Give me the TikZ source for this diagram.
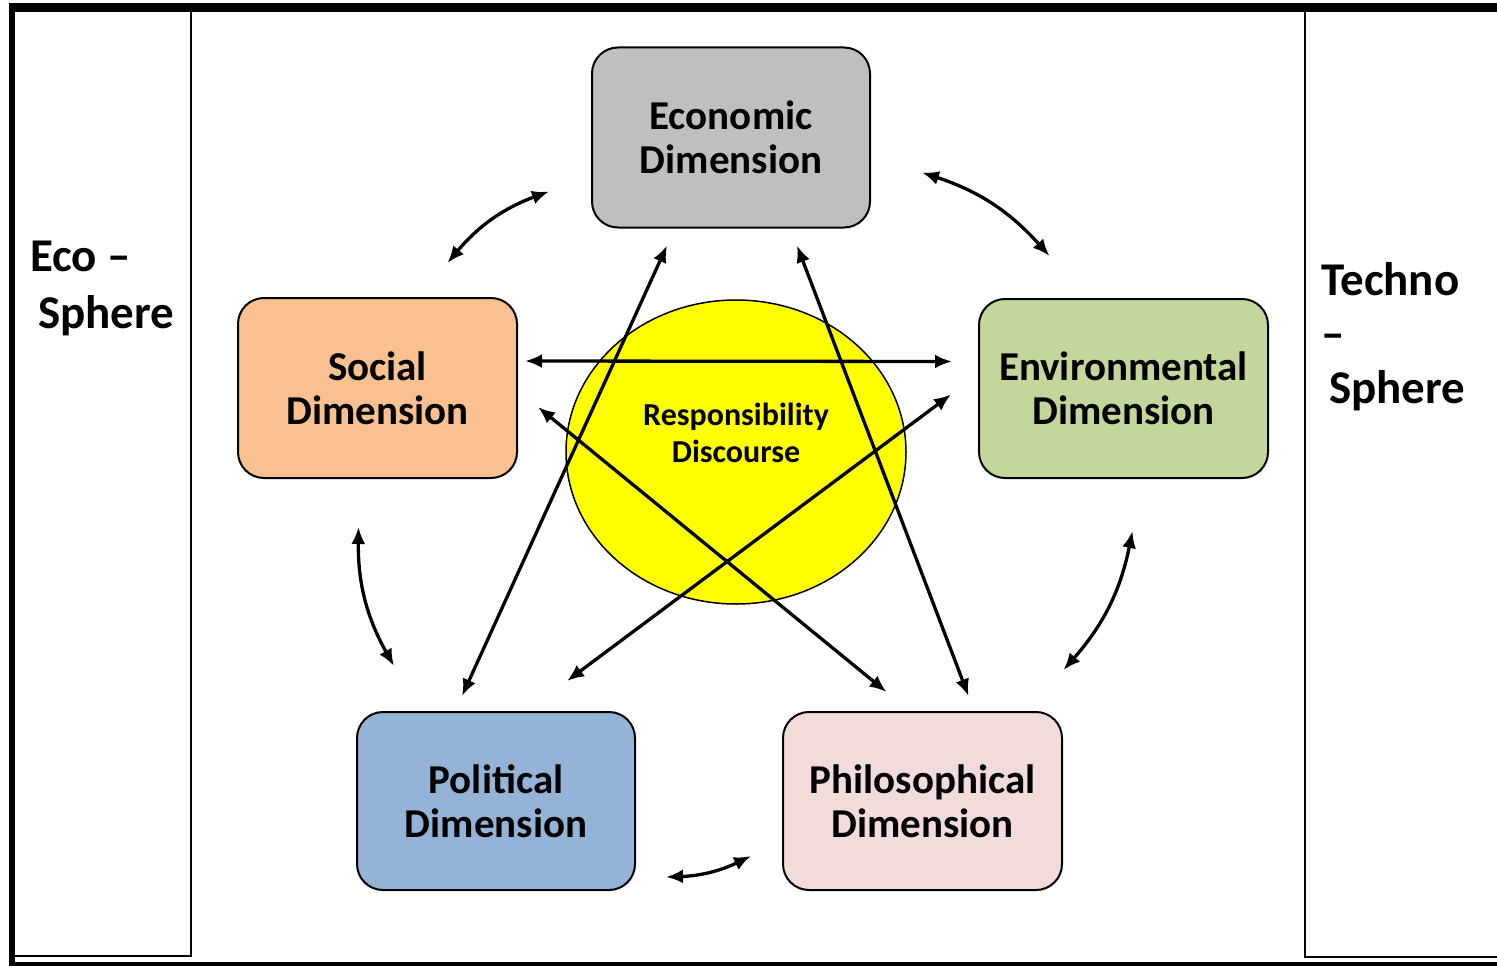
\documentclass[tikz,border=0pt]{standalone}
\usepackage{fontspec}
\setmainfont{Carlito}
\usetikzlibrary{arrows.meta,shapes.geometric}
\definecolor{ecogray}{RGB}{191,191,191}
\definecolor{socorange}{RGB}{250,192,144}
\definecolor{envgreen}{RGB}{195,214,155}
\definecolor{polblue}{RGB}{149,179,215}
\definecolor{philpink}{RGB}{242,220,219}
\definecolor{respyellow}{RGB}{255,255,0}
\tikzset{>={Latex[length=17pt,width=14pt]}}
\tikzset{
  dimbox/.style = {
    draw, line width=2pt, rounded corners=26pt,
    minimum width=279pt, minimum height=180pt, inner sep=0pt,
    align=center, font=\fontsize{41}{44}\selectfont\bfseries
  },
  sidetext/.style = {
    anchor=north west, inner sep=0pt, align=left,
    font=\fontsize{47}{57}\selectfont\bfseries
  },
  link/.style = {<->, line width=3.3pt}
}

\begin{document}
\begin{tikzpicture}[x=1pt,y=-1pt]
  \useasboundingbox (0,0) rectangle (1497,966);
  % frame and side panels
  \fill (9,3) rectangle (1497,12);
  \fill (9,3) rectangle (15,966);
  \fill (15,962) rectangle (1497,966);
  \draw[line width=2.5pt] (15,956) -- (191,956) -- (191,12);
  \draw[line width=2.5pt] (1305,12) -- (1305,957) -- (1497,957);
  \node[sidetext] (ecosph) at (30,241) {Eco –\\\hspace*{8pt}Sphere};
  \node[sidetext, font=\fontsize{47}{54}\selectfont\bfseries] (technosph) at (1321,262) {Techno\\–\\\hspace*{8pt}Sphere};
  % centre
  \node[ellipse, draw, line width=1.5pt, fill=respyellow, minimum width=340pt, minimum height=304pt] (resp) at (736,452) {};
  \node[align=center, inner sep=0pt, font=\fontsize{32}{37}\selectfont\bfseries] (resptext) at ([yshift=19pt]resp.center) {Responsibility\\Discourse};
  % dimensions
  \node[dimbox, fill=ecogray, minimum width=278pt] (eco) at (731,137.5) {Economic\\Dimension};
  \node[dimbox, fill=socorange] (soc) at (377.5,388) {Social\\Dimension};
  \node[dimbox, fill=envgreen, minimum width=289pt, minimum height=179pt] (env) at (1123.5,388.5) {Environmental\\Dimension};
  \node[dimbox, fill=polblue, minimum width=278pt, minimum height=178pt] (pol) at (496,801) {Political\\Dimension};
  \node[dimbox, fill=philpink, minimum height=178pt] (phil) at (922.5,801) {Philosophical\\Dimension};
  % straight links
  \draw[link] ([xshift=7pt,yshift=27pt]soc.east) -- ([xshift=-26pt,yshift=27pt]env.west);
  \draw[link] ([xshift=-64pt,yshift=-17pt]eco.south) -- ([xshift=-34pt,yshift=15pt]pol.north);
  \draw[link] ([xshift=66pt,yshift=-17pt]eco.south) -- ([xshift=46pt,yshift=15pt]phil.north);
  \draw[link] ([xshift=20pt,yshift=-19pt]soc.east) -- ([xshift=-36pt,yshift=19pt]phil.north);
  \draw[link] ([xshift=-27pt,yshift=-6pt]env.west) -- ([xshift=71pt,yshift=30pt]pol.north);
  % curved links round the ring
  \draw[link] ([xshift=70pt,yshift=34pt]soc.north) to[bend left=15] ([xshift=-42pt,yshift=-54pt]eco.west);
  \draw[link] ([xshift=51pt,yshift=-35pt]eco.east) to[bend left=15] ([xshift=-74pt,yshift=42pt]env.north);
  \draw[link] ([xshift=9pt,yshift=-52pt]env.south) to[bend left=15] ([xshift=141pt,yshift=41pt]phil.north);
  \draw[link] ([xshift=-31pt,yshift=-55pt]phil.west) to[bend left=12] ([xshift=30pt,yshift=-76pt]pol.east);
  \draw[link] ([xshift=-102pt,yshift=45pt]pol.north) to[bend left=15] ([xshift=-19pt,yshift=-48pt]soc.south);
\end{tikzpicture}
\end{document}
